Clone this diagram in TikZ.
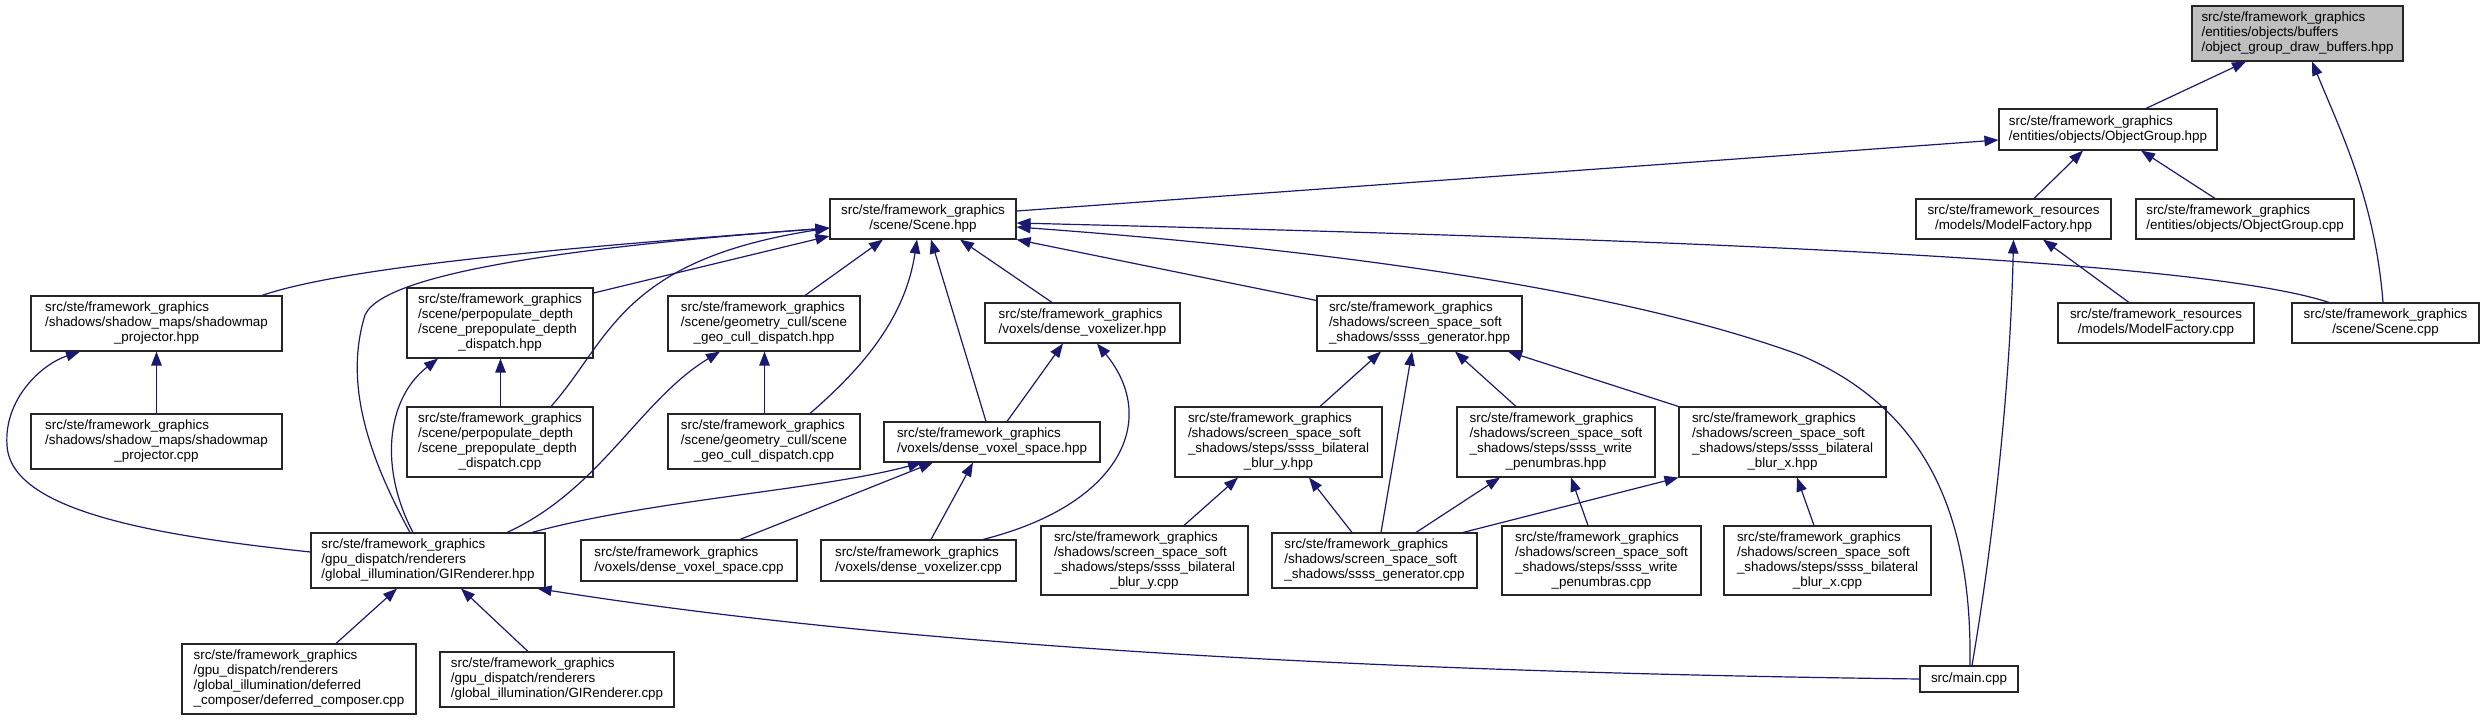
\documentclass[tikz,border=0pt]{standalone}
\usepackage{fontspec}
\setmainfont{Liberation Sans}
\usetikzlibrary{arrows.meta}
\definecolor{edgec}{HTML}{191970}
\definecolor{grayfill}{HTML}{BFBFBF}
\newcommand{\nt}[2]{\begin{tabular}{@{}l@{}}#1\\\multicolumn{1}{@{}c@{}}{#2}\end{tabular}}
\newcommand{\fg}{src/ste/framework\_graphics}
\newcommand{\sss}{/shadows/screen\_space\_soft}
\begin{document}
\begin{tikzpicture}[x=1pt,y=-1pt,
  box/.style={draw=black!85, line width=1.1pt, fill=white, inner sep=0pt, font=\fontsize{13.4}{15}\selectfont},
  edge/.style={draw=edgec, line width=1.2pt, -{Triangle[length=14pt,width=10.5pt]}}]
\useasboundingbox (0,0) rectangle (2484,720);
% nodes
\node[box, fill=grayfill, minimum width=211pt, minimum height=55pt] (dbuf) at (2297.5,33.5) {\nt{\fg\\/entities/objects/buffers}{/object\_group\_draw\_buffers.hpp}};
\node[box, minimum width=218pt, minimum height=41pt] (ogh) at (2108,129.5) {\nt{\fg}{/entities/objects/ObjectGroup.hpp}};
\node[box, minimum width=186pt, minimum height=40pt] (scene) at (923,219) {\nt{\fg}{/scene/Scene.hpp}};
\node[box, minimum width=195pt, minimum height=40pt] (mfh) at (2013.5,219) {\nt{src/ste/framework\_resources}{/models/ModelFactory.hpp}};
\node[box, minimum width=218pt, minimum height=40pt] (ogcpp) at (2245,219) {\nt{\fg}{/entities/objects/ObjectGroup.cpp}};
\node[box, minimum width=251pt, minimum height=55pt] (smph) at (156.5,323.5) {\nt{\fg\\/shadows/shadow\_maps/shadowmap}{\_projector.hpp}};
\node[box, minimum width=186pt, minimum height=70pt] (spdh) at (500,323) {\nt{\fg\\/scene/perpopulate\_depth\\/scene\_prepopulate\_depth}{\_dispatch.hpp}};
\node[box, minimum width=192pt, minimum height=55pt] (gch) at (764,323.5) {\nt{\fg\\/scene/geometry\_cull/scene}{\_geo\_cull\_dispatch.hpp}};
\node[box, minimum width=195pt, minimum height=40pt] (dvzh) at (1082.5,323) {\nt{\fg}{/voxels/dense\_voxelizer.hpp}};
\node[box, minimum width=205pt, minimum height=55pt] (ssgh) at (1419.5,323.5) {\nt{\fg\\\sss}{\_shadows/ssss\_generator.hpp}};
\node[box, minimum width=196pt, minimum height=40pt] (mfcpp) at (2156,323) {\nt{src/ste/framework\_resources}{/models/ModelFactory.cpp}};
\node[box, minimum width=187pt, minimum height=40pt] (scenecpp) at (2385.5,323) {\nt{\fg}{/scene/Scene.cpp}};
\node[box, minimum width=251pt, minimum height=55pt] (smpcpp) at (156.5,441.5) {\nt{\fg\\/shadows/shadow\_maps/shadowmap}{\_projector.cpp}};
\node[box, minimum width=186pt, minimum height=70pt] (spdcpp) at (500,442) {\nt{\fg\\/scene/perpopulate\_depth\\/scene\_prepopulate\_depth}{\_dispatch.cpp}};
\node[box, minimum width=192pt, minimum height=55pt] (gccpp) at (764,441.5) {\nt{\fg\\/scene/geometry\_cull/scene}{\_geo\_cull\_dispatch.cpp}};
\node[box, minimum width=216pt, minimum height=40pt] (dvsh) at (992,442) {\nt{\fg}{/voxels/dense\_voxel\_space.hpp}};
\node[box, minimum width=207pt, minimum height=70pt] (byh) at (1278.5,442) {\nt{\fg\\\sss\\\_shadows/steps/ssss\_bilateral}{\_blur\_y.hpp}};
\node[box, minimum width=198pt, minimum height=70pt] (wph) at (1556,442) {\nt{\fg\\\sss\\\_shadows/steps/ssss\_write}{\_penumbras.hpp}};
\node[box, minimum width=207pt, minimum height=70pt] (bxh) at (1782.5,442) {\nt{\fg\\\sss\\\_shadows/steps/ssss\_bilateral}{\_blur\_x.hpp}};
\node[box, minimum width=234pt, minimum height=55pt] (gih) at (428,560.5) {\nt{\fg\\/gpu\_dispatch/renderers}{/global\_illumination/GIRenderer.hpp}};
\node[box, minimum width=216pt, minimum height=41pt] (dvscpp) at (689,560.5) {\nt{\fg}{/voxels/dense\_voxel\_space.cpp}};
\node[box, minimum width=195pt, minimum height=41pt] (dvzcpp) at (918.5,560.5) {\nt{\fg}{/voxels/dense\_voxelizer.cpp}};
\node[box, minimum width=207pt, minimum height=69pt] (bycpp) at (1144.5,560.5) {\nt{\fg\\\sss\\\_shadows/steps/ssss\_bilateral}{\_blur\_y.cpp}};
\node[box, minimum width=205pt, minimum height=55pt] (sgcpp) at (1374.5,560.5) {\nt{\fg\\\sss}{\_shadows/ssss\_generator.cpp}};
\node[box, minimum width=199pt, minimum height=69pt] (wpcpp) at (1601.5,560.5) {\nt{\fg\\\sss\\\_shadows/steps/ssss\_write}{\_penumbras.cpp}};
\node[box, minimum width=207pt, minimum height=69pt] (bxcpp) at (1827.5,560.5) {\nt{\fg\\\sss\\\_shadows/steps/ssss\_bilateral}{\_blur\_x.cpp}};
\node[box, minimum width=234pt, minimum height=70pt] (dccpp) at (299,679) {\nt{\fg\\/gpu\_dispatch/renderers\\/global\_illumination/deferred}{\_composer/deferred\_composer.cpp}};
\node[box, minimum width=234pt, minimum height=55pt] (gicpp) at (557,679.5) {\nt{\fg\\/gpu\_dispatch/renderers}{/global\_illumination/GIRenderer.cpp}};
\node[box, minimum width=98pt, minimum height=26pt] (maincpp) at (1969,679) {src/main.cpp};
% edges
\draw[edge] ([xshift=38pt]ogh.north) -- ([xshift=-51.5pt]dbuf.south);
\draw[edge] ([xshift=-2.5pt]scenecpp.north) .. controls (2375,200) and (2340,130) .. ([xshift=14.5pt]dbuf.south);
\draw[edge] ([yshift=8pt]scene.east) -- ([yshift=-10.5pt]ogh.west);
\draw[edge] ([xshift=20.5pt]mfh.north) -- ([xshift=-25pt]ogh.south);
\draw[edge] ([xshift=-30pt]ogcpp.north) -- ([xshift=33pt]ogh.south);
\draw[edge] ([xshift=-27pt]mfcpp.north) -- ([xshift=29.5pt]mfh.south);
\draw[edge] ([xshift=3pt]maincpp.north) .. controls (1990,560) and (2010,400) .. (mfh.south);
\draw[edge] ([xshift=1pt]maincpp.north) .. controls (1972,520) and (1930,410) .. (1800,355) .. controls (1650,300) and (1400,255) .. ([yshift=-8pt]scene.east);
\draw[edge] ([xshift=-56.5pt]scenecpp.north) .. controls (2200,260) and (1700,240) .. ([yshift=-4pt]scene.east);
\draw[edge] ([xshift=105.5pt]smph.north) .. controls (350,265) and (600,245) .. ([yshift=-9pt]scene.west);
\draw[edge] ([xshift=-18pt]gih.north) .. controls (365,450) and (345,380) .. (365,315) .. controls (385,270) and (600,245) .. ([yshift=-9pt]scene.west);
\draw[edge] ([yshift=30pt]spdh.east) -- ([yshift=-17pt]scene.west);
\draw[edge] ([xshift=51pt]spdcpp.north) .. controls (610,340) and (620,260) .. ([yshift=-9pt]scene.west);
\draw[edge] ([xshift=41pt]gch.north) -- ([xshift=-40pt]scene.south);
\draw[edge] ([xshift=46pt]gccpp.north) .. controls (860,370) and (905,320) .. ([xshift=-6pt]scene.south);
\draw[edge] ([xshift=-6pt]dvsh.north) -- ([xshift=8pt]scene.south);
\draw[edge] ([xshift=-30.5pt]dvzh.north) -- ([xshift=37pt]scene.south);
\draw[edge] ([yshift=-5pt]ssgh.north west) -- (scene.south east);
\draw[edge] (smpcpp.north) -- (smph.south);
\draw[edge] ([yshift=8.5pt]gih.west) .. controls (150,535) and (10,510) .. (7,445) .. controls (4,400) and (40,365) .. ([xshift=-76.5pt]smph.south);
\draw[edge] ([xshift=0.5pt]spdcpp.north) -- ([xshift=0.5pt]spdh.south);
\draw[edge] ([xshift=-15pt]gih.north) .. controls (380,470) and (385,400) .. ([xshift=-62pt]spdh.south);
\draw[edge] ([xshift=0.5pt]gccpp.north) -- ([xshift=0.5pt]gch.south);
\draw[edge] ([xshift=79pt]gih.north) .. controls (600,490) and (640,400) .. ([xshift=-44pt]gch.south);
\draw[edge] ([xshift=15pt]dvsh.north) -- ([xshift=-19.5pt]dvzh.south);
\draw[edge] ([xshift=64.5pt]dvzcpp.north) .. controls (1120,505) and (1160,420) .. ([xshift=14.5pt]dvzh.south);
\draw[edge] ([xshift=104pt]gih.north) .. controls (650,500) and (820,490) .. ([xshift=-70pt]dvsh.south);
\draw[edge] ([xshift=51pt]dvscpp.north) -- ([xshift=-59pt]dvsh.south);
\draw[edge] ([xshift=12.5pt]dvzcpp.north) -- ([xshift=-19pt]dvsh.south);
\draw[edge] ([xshift=41.5pt]byh.north) -- ([xshift=-38.5pt]ssgh.south);
\draw[edge] ([xshift=6.5pt]sgcpp.north) -- ([xshift=-7.5pt]ssgh.south);
\draw[edge] ([xshift=-40pt]wph.north) -- ([xshift=35.5pt]ssgh.south);
\draw[edge] (bxh.north west) -- ([xshift=88.5pt]ssgh.south);
\draw[edge] ([xshift=39.5pt]bycpp.north) -- ([xshift=-40.5pt]byh.south);
\draw[edge] ([xshift=-22.5pt]sgcpp.north) -- ([xshift=30.5pt]byh.south);
\draw[edge] ([xshift=41.5pt]sgcpp.north) -- ([xshift=-56pt]wph.south);
\draw[edge] ([xshift=-13.5pt]wpcpp.north) -- ([xshift=15pt]wph.south);
\draw[edge] ([xshift=88.5pt]sgcpp.north) -- (bxh.south west);
\draw[edge] ([xshift=-13.5pt]bxcpp.north) -- ([xshift=14.5pt]bxh.south);
\draw[edge] ([xshift=37pt]dccpp.north) -- ([xshift=-31pt]gih.south);
\draw[edge] ([xshift=-29pt]gicpp.north) -- ([xshift=33pt]gih.south);
\draw[edge] (maincpp.west) .. controls (1200,670) and (800,630) .. ([xshift=-8pt]gih.south east);
\end{tikzpicture}
\end{document}
